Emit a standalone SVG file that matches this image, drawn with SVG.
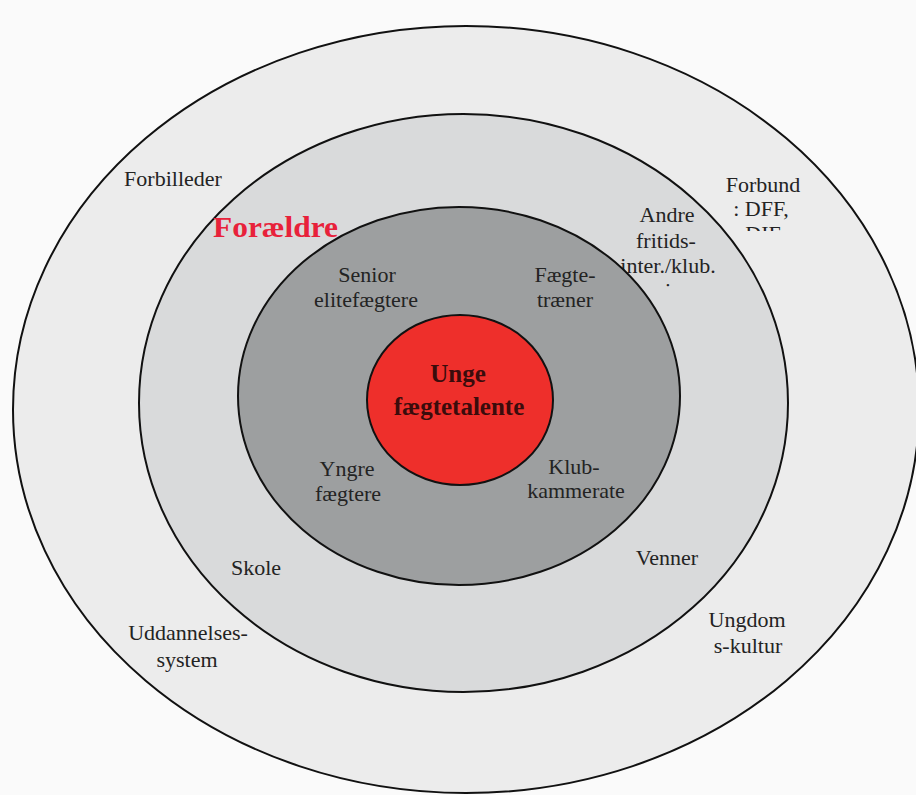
<svg xmlns="http://www.w3.org/2000/svg" width="916" height="795" viewBox="0 0 916 795">
  <style>
    .ring { stroke: #111; stroke-width: 2; }
    .lbl { font-family: "Liberation Serif", "Times New Roman", serif; font-size: 22px; fill: #232323; text-anchor: middle; }
    .core { font-family: "Liberation Serif", "Times New Roman", serif; font-size: 25px; font-weight: bold; fill: #3a0c0c; text-anchor: middle; }
    .parents { font-family: "Liberation Serif", "Times New Roman", serif; font-size: 29px; font-weight: bold; fill: #e8213a; }
  </style>
  <defs>
    <clipPath id="clipForbund"><rect x="700" y="170" width="120" height="61"/></clipPath>
    <clipPath id="clipAndre"><rect x="600" y="195" width="140" height="93"/></clipPath>
  </defs>

  <rect width="916" height="795" fill="#fafafa"/>

  <!-- outer ring: wider society -->
  <g id="ring-society">
    <ellipse class="ring" cx="466" cy="409.5" rx="453" ry="383.5" fill="#ececec"/>
    <text class="lbl" x="173" y="186">Forbilleder</text>
    <g clip-path="url(#clipForbund)">
      <text class="lbl" x="763" y="192">Forbund</text>
      <text class="lbl" x="761" y="216">: DFF,</text>
      <text class="lbl" x="763" y="241">DIF</text>
    </g>
    <text class="lbl" x="188" y="640">Uddannelses-</text>
    <text class="lbl" x="187" y="667">system</text>
    <text class="lbl" x="747" y="627">Ungdom</text>
    <text class="lbl" x="748" y="653">s-kultur</text>
  </g>

  <!-- middle ring: family and everyday life -->
  <g id="ring-everyday">
    <ellipse class="ring" cx="463.5" cy="403" rx="324.5" ry="289" fill="#d9dadb"/>
    <text class="parents" x="213" y="237" textLength="125" lengthAdjust="spacingAndGlyphs">Forældre</text>
    <g clip-path="url(#clipAndre)">
      <text class="lbl" x="667" y="222">Andre</text>
      <text class="lbl" x="666" y="248">fritids-</text>
      <text class="lbl" x="668" y="273">inter./klub.</text>
      <text class="lbl" x="668" y="298">i</text>
    </g>
    <text class="lbl" x="256" y="575">Skole</text>
    <text class="lbl" x="667" y="565">Venner</text>
  </g>

  <!-- inner ring: fencing environment -->
  <g id="ring-fencing">
    <ellipse class="ring" cx="459" cy="396" rx="221" ry="189" fill="#9d9fa0"/>
    <text class="lbl" x="367" y="282">Senior</text>
    <text class="lbl" x="366" y="307">elitefægtere</text>
    <text class="lbl" x="565" y="282">Fægte-</text>
    <text class="lbl" x="565" y="307">træner</text>
    <text class="lbl" x="347" y="476">Yngre</text>
    <text class="lbl" x="348" y="501">fægtere</text>
    <text class="lbl" x="574" y="474">Klub-</text>
    <text class="lbl" x="576" y="498">kammerate</text>
  </g>

  <!-- centre: the young talents -->
  <g id="core-talents">
    <ellipse class="ring" cx="460" cy="400" rx="93" ry="85" fill="#ee2f2b"/>
    <text class="core" x="458" y="382">Unge</text>
    <text class="core" x="459" y="415">fægtetalente</text>
  </g>
</svg>
